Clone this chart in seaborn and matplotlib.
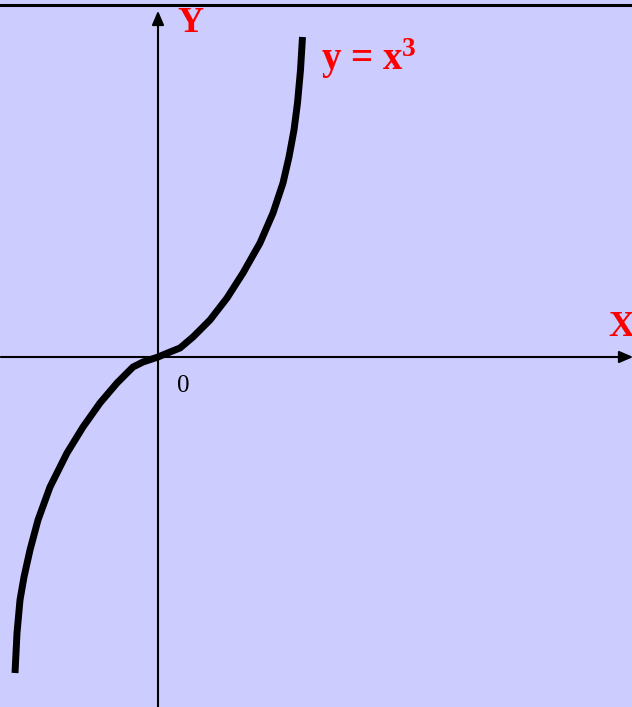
import numpy as np
import pandas as pd
import seaborn as sns
from matplotlib import pyplot as plt

# curve points (origin at the axes crossing)
curve_x = [-1.43, -1.41, -1.38, -1.34, -1.28, -1.20, -1.08, -0.91, -0.75, -0.58, -0.41,
           -0.25, -0.15, 0.0, 0.12, 0.22, 0.35, 0.52, 0.69, 0.85, 1.02, 1.15, 1.25,
           1.31, 1.36, 1.395, 1.425, 1.445]
curve_y = [-3.16, -2.76, -2.43, -2.20, -1.93, -1.63, -1.30, -0.96, -0.70, -0.46, -0.26,
           -0.10, -0.05, 0.0, 0.05, 0.09, 0.20, 0.37, 0.59, 0.84, 1.14, 1.44, 1.74,
           2.00, 2.27, 2.54, 2.87, 3.20]

axis_labels = ["X", "Y", "0"]
curve_label = "y = x$^{3}$"

df = pd.DataFrame({"x": curve_x, "y": curve_y})

sns.set_theme(style="white")
plt.rcParams["font.family"] = ["Liberation Serif", "DejaVu Serif"]
plt.rcParams["mathtext.fontset"] = "custom"
plt.rcParams["mathtext.rm"] = "Liberation Serif:bold"
plt.rcParams["mathtext.it"] = "Liberation Serif:bold"
plt.rcParams["mathtext.bf"] = "Liberation Serif:bold"

fig = plt.figure(figsize=(6.32, 7.07), dpi=100)
fig.patch.set_facecolor("#ccccff")
ax = fig.add_axes([0, 0, 1, 1])
ax.set_facecolor("#ccccff")
ax.set_xlim(-1.58, 4.74)
ax.set_ylim(-3.50, 3.57)
for s in ax.spines.values():
    s.set_visible(False)
ax.set_xticks([])
ax.set_yticks([])

# frame line at top
ax.axhline(3.52, color="black", lw=2.2)

# axes with arrows
arrow = dict(arrowstyle="-|>,head_length=0.7,head_width=0.3", color="black", lw=1.5)
ax.annotate("", xy=(4.78, 0), xytext=(-1.6, 0), arrowprops=arrow, annotation_clip=False)
ax.annotate("", xy=(0, 3.49), xytext=(0, -3.6), arrowprops=arrow, annotation_clip=False)

sns.lineplot(data=df, x="x", y="y", sort=False, color="black", lw=5, ax=ax,
             solid_capstyle="butt", solid_joinstyle="round")
ax.set_xlabel("")
ax.set_ylabel("")

ax.text(4.50, 0.21, axis_labels[0], color="red", fontsize=26, fontweight="bold")
ax.text(0.19, 3.25, axis_labels[1], color="red", fontsize=26, fontweight="bold")
ax.text(0.19, -0.35, axis_labels[2], color="black", fontsize=18)
ax.text(1.63, 2.87, curve_label, color="red", fontsize=28, fontweight="bold")

fig.savefig("out.png", dpi=100, facecolor=fig.get_facecolor())
